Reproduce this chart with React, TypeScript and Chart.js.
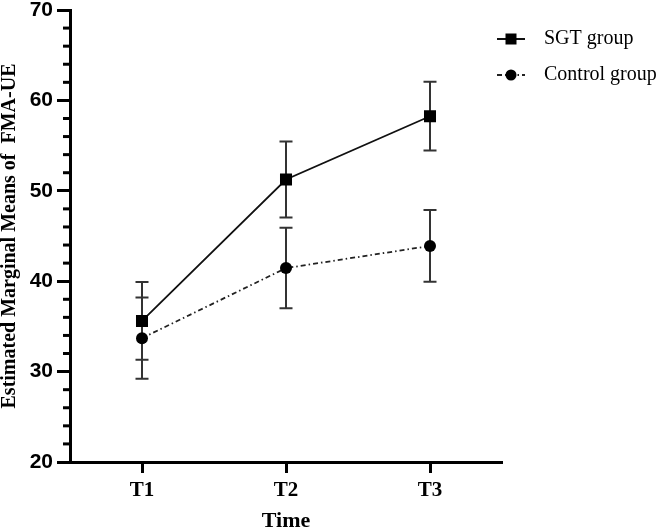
import React, { useEffect, useRef } from "react";
import { Chart, registerables } from "chart.js";

Chart.register(...registerables);

const categories = ["T1", "T2", "T3"];
const sgtMeans = [35.6, 51.25, 58.25];
const sgtErrors = [4.3, 4.2, 3.8];
const controlMeans = [33.7, 41.45, 43.9];
const controlErrors = [4.5, 4.45, 3.97];
const seriesNames = ["SGT group", "Control group"];
const yMin = 20;
const yMax = 70;
const yMinorStep = 2;
const yMajorStep = 10;
const yTitle = "Estimated Marginal Means of  FMA-UE";
const xTitle = "Time";

const errorBarPlugin = {
  id: "errorBars",
  beforeDatasetsDraw(chart: any) {
    const ctx = chart.ctx;
    const y = chart.scales.y;
    chart.data.datasets.forEach((ds: any, di: number) => {
      const meta = chart.getDatasetMeta(di);
      const errs = ds.errors as number[];
      meta.data.forEach((pt: any, i: number) => {
        const v = ds.data[i];
        const top = y.getPixelForValue(v + errs[i]);
        const bot = y.getPixelForValue(v - errs[i]);
        const x = pt.x;
        ctx.save();
        ctx.strokeStyle = "#333";
        ctx.lineWidth = 2;
        ctx.beginPath();
        ctx.moveTo(x, top);
        ctx.lineTo(x, bot);
        ctx.moveTo(x - 6.5, top);
        ctx.lineTo(x + 6.5, top);
        ctx.moveTo(x - 6.5, bot);
        ctx.lineTo(x + 6.5, bot);
        ctx.stroke();
        ctx.restore();
      });
    });
  },
};

const minorTickPlugin = {
  id: "minorTicks",
  afterDraw(chart: any) {
    const ctx = chart.ctx;
    const y = chart.scales.y;
    const left = chart.chartArea.left;
    ctx.save();
    ctx.strokeStyle = "#000";
    ctx.lineWidth = 3;
    for (let v = yMin; v <= yMax; v += yMinorStep) {
      if (v % yMajorStep === 0) continue;
      const py = y.getPixelForValue(v);
      ctx.beginPath();
      ctx.moveTo(left - 7, py);
      ctx.lineTo(left, py);
      ctx.stroke();
    }
    ctx.restore();
  },
};

const legendPlugin = {
  id: "customLegend",
  afterDraw(chart: any) {
    const ctx = chart.ctx;
    const { right, top } = chart.chartArea;
    const rows = [top + 29, top + 65];
    ctx.save();
    chart.data.datasets.forEach((ds: any, i: number) => {
      const yy = rows[i];
      ctx.strokeStyle = ds.borderColor;
      ctx.lineWidth = 2;
      ctx.setLineDash(ds.borderDash || []);
      ctx.beginPath();
      ctx.moveTo(right - 5, yy);
      ctx.lineTo(right + 23, yy);
      ctx.stroke();
      ctx.setLineDash([]);
      ctx.fillStyle = "#000";
      if (ds.pointStyle === "rect") {
        ctx.fillRect(right + 9 - 5.5, yy - 5.5, 11, 11);
      } else {
        ctx.beginPath();
        ctx.arc(right + 9, yy, 5.5, 0, Math.PI * 2);
        ctx.fill();
      }
      ctx.font = "20px 'Liberation Serif'";
      ctx.textBaseline = "middle";
      ctx.textAlign = "left";
      ctx.fillText(ds.label, right + 42, yy);
    });
    ctx.restore();
  },
};

export default function App() {
  const ref = useRef<HTMLCanvasElement>(null);
  useEffect(() => {
    document.body.style.margin = "0";
    const chart = new Chart(ref.current as HTMLCanvasElement, {
      type: "line",
      data: {
        labels: categories,
        datasets: [
          {
            label: seriesNames[0],
            data: sgtMeans,
            errors: sgtErrors,
            borderColor: "#111",
            backgroundColor: "#000",
            borderWidth: 1.8,
            pointStyle: "rect",
            pointRadius: 8.5,
            pointBorderWidth: 0,
            pointBackgroundColor: "#000",
            tension: 0,
          } as any,
          {
            label: seriesNames[1],
            data: controlMeans,
            errors: controlErrors,
            borderColor: "#222",
            backgroundColor: "#000",
            borderWidth: 1.8,
            borderDash: [5, 3, 1.5, 3],
            pointStyle: "circle",
            pointRadius: 6,
            pointBorderWidth: 0,
            pointBackgroundColor: "#000",
            tension: 0,
          } as any,
        ],
      },
      options: {
        responsive: false,
        animation: false,
        layout: { padding: { left: 0, top: 10, right: 159, bottom: 0 } },
        plugins: { legend: { display: false }, tooltip: { enabled: false } },
        scales: {
          x: {
            type: "category",
            offset: true,
            grid: {
              drawOnChartArea: false,
              tickLength: 11,
              tickWidth: 3,
              tickColor: "#000",
            },
            border: { display: true, width: 3, color: "#000" },
            ticks: {
              color: "#000",
              padding: 5,
              font: { family: "'Liberation Serif'", size: 21, weight: "bold" },
            },
            title: {
              display: true,
              text: xTitle,
              color: "#000",
              padding: { top: 0, bottom: 0 },
              font: { family: "'Liberation Serif'", size: 22, weight: "bold", lineHeight: 1 },
            },
            afterFit(scale: any) {
              scale.height = 70;
              scale.paddingLeft = 0;
              scale.paddingRight = 0;
            },
          },
          y: {
            min: yMin,
            max: yMax,
            grid: {
              drawOnChartArea: false,
              tickLength: 13,
              tickWidth: 3,
              tickColor: (c: any) => (c.tick && c.tick.value % yMajorStep === 0 ? "#000" : "rgba(0,0,0,0)"),
            },
            border: { display: true, width: 3, color: "#000" },
            ticks: {
              stepSize: yMinorStep,
              autoSkip: false,
              color: "#000",
              padding: 4,
              font: { family: "'Liberation Sans'", size: 21, weight: "bold" },
              callback: (v: any) => (Number(v) % yMajorStep === 0 ? String(v) : ""),
            },
            title: {
              display: true,
              text: yTitle,
              color: "#000",
              padding: { top: 0, bottom: 0 },
              font: { family: "'Liberation Serif'", size: 20, weight: "bold", lineHeight: 1 },
            },
            afterFit(scale: any) {
              scale.width = 70;
              scale.paddingTop = 0;
              scale.paddingBottom = 0;
            },
          },
        },
      },
      plugins: [errorBarPlugin, minorTickPlugin, legendPlugin],
    } as any);
    return () => chart.destroy();
  }, []);
  return (
    <div style={{ width: 661, height: 532, background: "#fff" }}>
      <canvas ref={ref} width={661} height={532} style={{ display: "block" }} />
    </div>
  );
}
